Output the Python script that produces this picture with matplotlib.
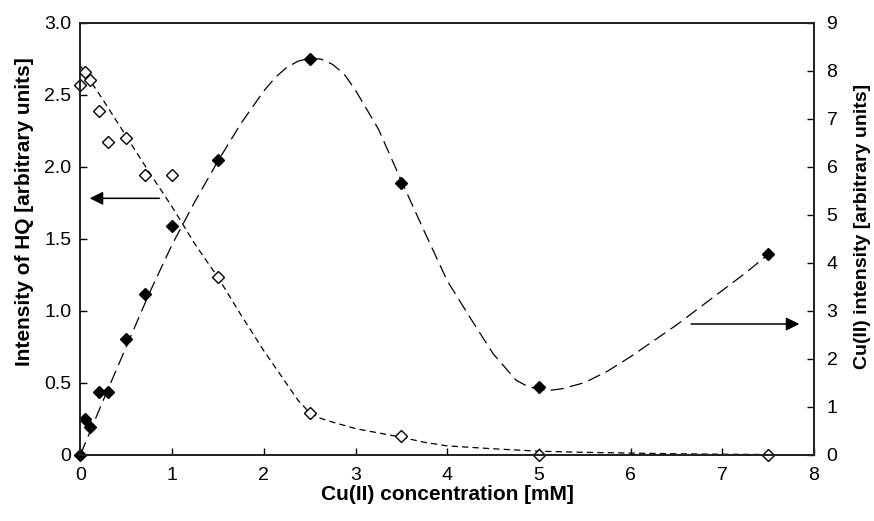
import numpy as np
import matplotlib
matplotlib.use("Agg")
import matplotlib.pyplot as plt

plt.rcParams['font.family'] = ['Liberation Sans', 'DejaVu Sans']
plt.rcParams['lines.scale_dashes'] = False

# measured points
conc = [0, 0.05, 0.1, 0.2, 0.3, 0.5, 0.7, 1.0, 1.5, 2.5, 3.5, 5.0, 7.5]
hq = [2.57, 2.66, 2.60, 2.39, 2.17, 2.20, 1.94, 1.94, 1.23, 0.29, 0.13, 0.0, 0.0]
cu = [0.0, 0.73, 0.57, 1.30, 1.30, 2.40, 3.35, 4.76, 6.14, 8.25, 5.65, 1.40, 4.18]

# dashed fit curves
hq_fit_x = [0, 0.25, 0.5, 0.75, 1.0, 1.25, 1.5, 1.75, 2.0, 2.25, 2.375, 2.5, 2.625,
            2.75, 3.0, 3.25, 3.5, 3.75, 4.0, 4.5, 5.0, 5.5, 6.0, 6.5, 7.0, 7.5]
hq_fit = [2.70, 2.46, 2.21, 1.96, 1.72, 1.46, 1.23, 0.97, 0.72, 0.49, 0.375, 0.29, 0.25,
          0.225, 0.18, 0.15, 0.12, 0.085, 0.06, 0.04, 0.023, 0.015, 0.01, 0.005, 0.002, 0.0]
cu_fit_x = [0, 0.25, 0.5, 0.75, 1.0, 1.25, 1.5, 1.75, 2.0, 2.125, 2.25, 2.375, 2.5, 2.625,
            2.75, 2.875, 3.0, 3.25, 3.5, 3.75, 4.0, 4.25, 4.5, 4.75, 4.875, 5.0, 5.125, 5.25,
            5.5, 5.75, 6.0, 6.25, 6.5, 6.75, 7.0, 7.25, 7.5]
cu_fit = [0.0, 1.14, 2.25, 3.36, 4.38, 5.28, 6.12, 6.90, 7.58, 7.86, 8.07, 8.20, 8.26, 8.24,
          8.13, 7.93, 7.59, 6.78, 5.70, 4.65, 3.62, 2.85, 2.10, 1.55, 1.42, 1.36, 1.34, 1.37,
          1.50, 1.74, 2.04, 2.37, 2.70, 3.06, 3.42, 3.78, 4.17]

fig = plt.figure(figsize=(8.74, 5.21), dpi=100)
ax = fig.add_axes([0.0921, 0.1276, 0.8393, 0.8288])
ax2 = ax.twinx()

ax.plot(hq_fit_x, hq_fit, color='black', lw=0.9, dashes=(4.5, 3))
ax.plot(conc, hq, 'D', ms=6, mfc='white', mec='black', mew=1, clip_on=False)
ax2.plot(cu_fit_x, cu_fit, color='black', lw=0.9, dashes=(9.5, 4.5))
ax2.plot(conc, cu, 'D', ms=6.5, color='black', clip_on=False)

ax.set_xlim(0, 8)
ax.set_ylim(0, 3)
ax2.set_ylim(0, 9)
ax.set_xticks(range(9))
ax.set_yticks([0, 0.5, 1.0, 1.5, 2.0, 2.5, 3.0])
ax.set_yticklabels(['0', '0.5', '1.0', '1.5', '2.0', '2.5', '3.0'])
ax2.set_yticks(range(10))

ax.tick_params(direction='in', length=5, width=1, labelsize=14, pad=6.5)
ax.tick_params(axis='x', pad=9)
ax2.tick_params(direction='in', length=5, width=1, labelsize=14, pad=9)
for a in (ax, ax2):
    for s in a.spines.values():
        s.set_linewidth(1.3)
        s.set_color('#222222')

ax.set_xlabel('Cu(II) concentration [mM]', fontsize=15, fontweight='bold')
ax.set_ylabel('Intensity of HQ [arbitrary units]', fontsize=15, fontweight='bold')
ax2.set_ylabel('Cu(II) intensity [arbitrary units]', fontsize=14, fontweight='bold',
               rotation=90)
ax.xaxis.set_label_coords(0.5, -0.0695)
ax.yaxis.set_label_coords(-0.063, 0.563)
ax2.yaxis.set_label_coords(1.054, 0.528)

# arrows pointing to the matching axis
ax.annotate('', xy=(0.07, 1.78), xytext=(0.89, 1.78),
            arrowprops=dict(arrowstyle='-|>', color='black', lw=1.1, mutation_scale=20))
ax2.annotate('', xy=(7.87, 2.72), xytext=(6.63, 2.72),
             arrowprops=dict(arrowstyle='-|>', color='black', lw=1.1, mutation_scale=20))

plt.savefig('out.png', dpi=100)
